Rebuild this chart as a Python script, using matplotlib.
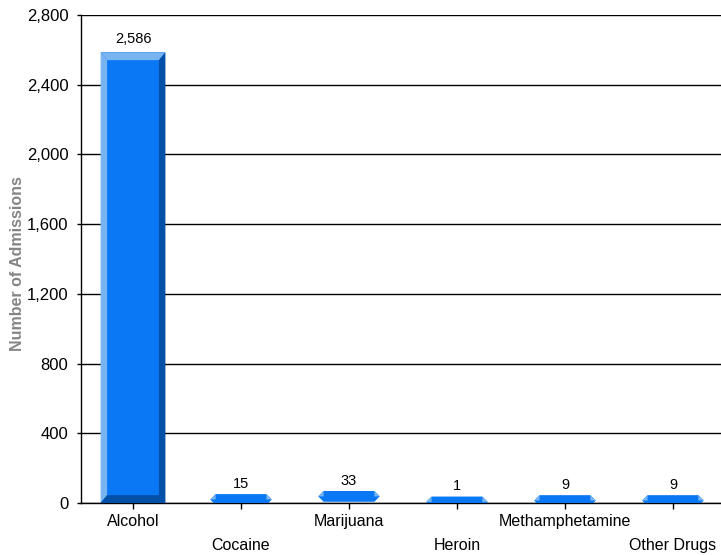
import matplotlib
matplotlib.use("Agg")
import matplotlib.pyplot as plt
from matplotlib.patches import Polygon
import numpy as np

# data
categories = ["Alcohol", "Cocaine", "Marijuana", "Heroin", "Methamphetamine", "Other Drugs"]
admissions = [2586, 15, 33, 1, 9, 9]
yticks = [0, 400, 800, 1200, 1600, 2000, 2400, 2800]

face = "#0a78f5"
light = "#78b4f0"
dark = "#0050a8"


def bevel_bar(ax, xc, v, w, dx, dy):
    x0, x1 = xc - w / 2, xc + w / 2
    ax.bar(xc, v, width=w, color=face, linewidth=0, zorder=3)
    pieces = [
        ([(x0, 0), (x0, v), (x0 + dx, v - dy), (x0 + dx, dy)], light),
        ([(x0, v), (x1, v), (x1 - dx, v - dy), (x0 + dx, v - dy)], light),
        ([(x1, v), (x1, 0), (x1 - dx, dy), (x1 - dx, v - dy)], dark),
        ([(x0, 0), (x1, 0), (x1 - dx, dy), (x0 + dx, dy)], dark),
    ]
    for pts, c in pieces:
        ax.add_patch(Polygon(pts, closed=True, facecolor=c, edgecolor='none', zorder=4))


def flat_bar(ax, xc, v, w, dx, h):
    x0, x1 = xc - w / 2, xc + w / 2
    ax.add_patch(Polygon([(x0, v), (x0 + dx, v + h / 2), (x1 - dx, v + h / 2), (x1, v),
                          (x1 - dx, v - h / 2), (x0 + dx, v - h / 2)],
                         closed=True, facecolor=face, edgecolor='none', zorder=4))
    ax.add_patch(Polygon([(x0, v), (x0 + dx, v + h / 2), (x0 + dx, v)],
                         closed=True, facecolor=light, edgecolor='none', zorder=5))
    ax.add_patch(Polygon([(x1, v), (x1 - dx, v + h / 2), (x1 - dx, v)],
                         closed=True, facecolor=light, edgecolor='none', zorder=5))


def main():
    plt.rcParams['font.family'] = ['Liberation Sans', 'DejaVu Sans']
    fig = plt.figure(figsize=(7.21, 5.55), dpi=100)
    ax = fig.add_axes([0.1123, 0.0937, 0.8877, 0.8793])

    x = np.arange(len(categories))
    w = 0.6
    for xi, v in zip(x, admissions):
        if v > 200:
            bevel_bar(ax, xi, v, w, 0.06, 45)
            ax.text(xi, v + 38, f"{v:,}", ha='center', va='bottom', fontsize=10.5,
                    color='black', zorder=7)
        else:
            flat_bar(ax, xi, v + 5, w * 0.95, 0.05, 62)
            ax.text(xi, v + 55, f"{v:,}", ha='center', va='bottom', fontsize=10.5,
                    color='black', zorder=7)

    ax.set_xlim(-0.482, 5.445)
    ax.set_ylim(0, 2800)
    ax.set_yticks(yticks)
    ax.set_yticklabels([f"{t:,}" for t in yticks], fontsize=12)
    ax.set_xticks(x)
    ax.set_xticklabels(["\n" + c if i % 2 else c for i, c in enumerate(categories)],
                       fontsize=11.5, linespacing=1.7)
    ax.tick_params(axis='y', length=3, width=1, pad=6)
    ax.tick_params(axis='x', length=4, width=1, pad=4)
    ax.grid(True, axis='y', color='black', linewidth=1, zorder=0)
    ax.set_axisbelow(True)
    for s in ['top', 'right']:
        ax.spines[s].set_visible(False)
    ax.spines['left'].set_linewidth(1)
    ax.spines['bottom'].set_linewidth(1)
    ax.set_ylabel("Number of Admissions", fontsize=11.5, color='#858585',
                  fontweight='bold')
    ax.yaxis.set_label_coords(-0.088, 0.49)

    fig.savefig("out.png", dpi=100)


if __name__ == "__main__":
    main()
